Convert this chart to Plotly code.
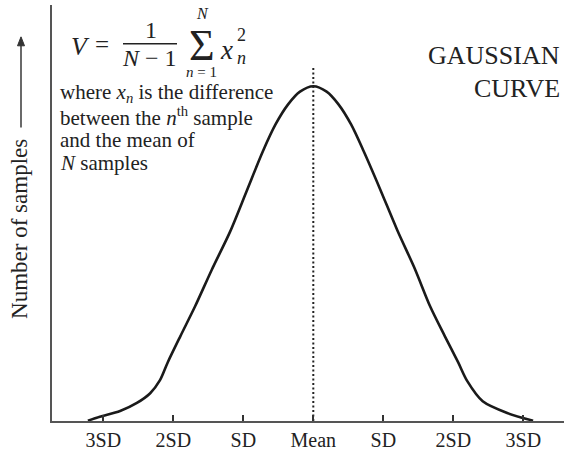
import plotly.graph_objects as go

# ---- data (x in SD units from the mean, y as % of peak height) ----
curve_x = [-3.22, -3.05, -2.76, -2.52, -2.33, -2.19, -2.08, -1.90, -1.69, -1.45,
           -1.19, -0.95, -0.72, -0.54, -0.36, -0.19, 0.00,
           0.19, 0.36, 0.54, 0.72, 0.95, 1.20, 1.45, 1.67,
           1.88, 2.07, 2.20, 2.42, 2.77, 3.14]
curve_y = [0.1, 1.3, 3.0, 5.4, 8.3, 12.2, 17.5, 25.3, 34.2, 45.2,
           56.5, 68.8, 80.6, 88.6, 94.6, 98.4, 100.0,
           98.4, 94.6, 88.6, 80.6, 69.5, 57.0, 45.5, 34.2,
           25.3, 17.5, 11.9, 5.9, 2.4, 0.1]
mean_x = [0, 0]
mean_y = [0, 106]
tick_vals = [-3, -2, -1, 0, 1, 2, 3]
tick_text = ["3SD", "2SD", "SD", "Mean", "SD", "2SD", "3SD"]

W, H = 564, 451
L, R, T, B = 52, 0, 5, 28
PW, PH = W - L - R, H - T - B
X0 = 313.3          # x pixel of the mean
SDPX = 70.0         # pixels per SD
PEAKPX = 336.3      # pixel height of the peak above the axis
XMIN = (L - X0) / SDPX
XMAX = (W - R - X0) / SDPX
YMAX = PH / PEAKPX * 100

SERIF = "Liberation Serif"
INK = "#222222"


def P(rx, ry):
    """picture pixel -> paper coords"""
    return (rx - L) / PW, (H - B - ry) / PH


fig = go.Figure()
fig.add_trace(go.Scatter(x=curve_x, y=curve_y, mode="lines",
                         line=dict(color="#1a1a1a", width=2.6, shape="spline", smoothing=0.8),
                         hoverinfo="skip", showlegend=False))
fig.add_trace(go.Scatter(x=mean_x, y=mean_y, mode="lines",
                         line=dict(color="#222222", width=2, dash="2px,2.5px"),
                         hoverinfo="skip", showlegend=False))

ann = []


def text(rx, ry, s, size=20, xanchor="center", yanchor="middle", **kw):
    x, y = P(rx, ry)
    ann.append(dict(x=x, y=y, xref="paper", yref="paper", text=s, showarrow=False,
                    xanchor=xanchor, yanchor=yanchor,
                    font=dict(family=SERIF, size=size, color=INK), **kw))


# formula
text(80, 47, "<i>V</i>", size=26)
text(102, 45, "=", size=25)
text(151, 30, "1", size=24)
text(149, 58, "<i>N</i> − 1", size=24)
text(202, 46, "Σ", size=44)
text(202, 14, "<i>N</i>", size=16)
text(201, 72, "<i>n</i> = 1", size=15)
text(226, 50, "<i>x</i>", size=27)
text(241, 35, "2", size=18)
text(241, 58, "<i>n</i>", size=18)

# explanation
text(58, 93, "where <i>x<sub>n</sub></i> is the difference", size=21, xanchor="left")
text(58, 117, "between the <i>n</i><sup>th</sup> sample", size=21, xanchor="left")
text(58, 141, "and the mean of", size=21, xanchor="left")
text(58, 164, "<i>N</i> samples", size=21, xanchor="left")

# title
text(562, 56, "GAUSSIAN", size=26, xanchor="right")
text(562, 89, "CURVE", size=26, xanchor="right")

# y label
text(20, 230, "Number of samples", size=23, textangle=-90)

# arrow (shaft + head)
sx, sy0 = P(21, 128)
_, sy1 = P(21, 44)
hx0, hy0 = P(17.5, 46)
hx1, hy1 = P(24.5, 46)
tx, ty = P(21, 37)
bx0, by0 = P(123, 44)
bx1, by1 = P(177, 44)

fig.update_layout(
    width=W, height=H,
    margin=dict(l=L, r=R, t=T, b=B),
    paper_bgcolor="white", plot_bgcolor="white",
    annotations=ann,
    shapes=[
        dict(type="line", xref="paper", yref="paper", x0=bx0, y0=by0, x1=bx1, y1=by1,
             line=dict(color=INK, width=1.4)),
        dict(type="line", xref="paper", yref="paper", x0=sx, y0=sy0, x1=sx, y1=sy1,
             line=dict(color="#444444", width=1.6)),
        dict(type="path", xref="paper", yref="paper",
             path=f"M {hx0},{hy0} L {tx},{ty} L {hx1},{hy1} Z",
             fillcolor="#333333", line=dict(color="#333333", width=1)),
    ],
    xaxis=dict(range=[XMIN, XMAX], tickmode="array", tickvals=tick_vals, ticktext=tick_text,
               ticks="inside", ticklen=6, tickwidth=1.5, tickcolor="#333333",
               showline=True, linecolor="#555555", linewidth=1.6, showgrid=False, zeroline=False,
               tickfont=dict(family=SERIF, size=20, color=INK), fixedrange=True),
    yaxis=dict(range=[0, YMAX], showticklabels=False, ticks="", showline=True,
               linecolor="#555555", linewidth=1.6, showgrid=False, zeroline=False, fixedrange=True),
    showlegend=False,
)

fig.write_html(
    "out.html",
    config={"displayModeBar": False},
    post_script="document.body.style.margin='0';document.body.style.overflow='hidden';",
)
